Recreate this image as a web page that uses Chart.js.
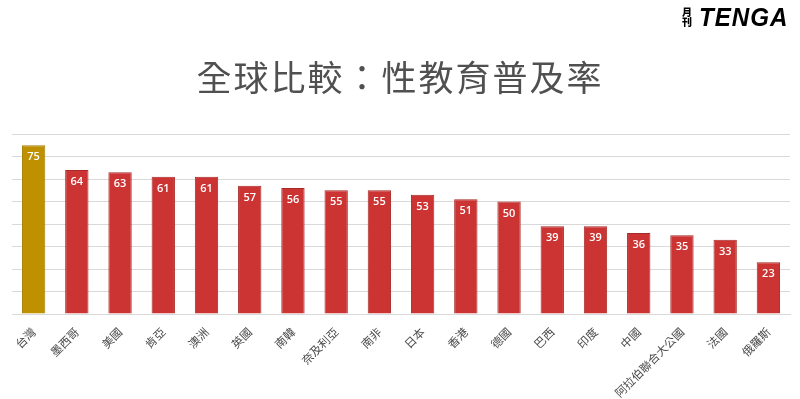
<!DOCTYPE html>
<html>
<head>
<meta charset="utf-8">
<script src="https://cdn.jsdelivr.net/npm/chart.js@4.4.1/dist/chart.umd.min.js"></script>
<style>
  html, body { margin: 0; padding: 0; background: #fff; }
  #wrap { position: relative; width: 800px; height: 399px; }
  #title {
    position: absolute; left: 0; top: 50px; width: 800px; text-align: center;
    font-family: "Noto Sans CJK TC", sans-serif; font-size: 35px; font-weight: 400; color: #505050;
    letter-spacing: 2px;
  }
  #logo { position: absolute; left: 682px; top: 2px; font-family: "Liberation Sans", sans-serif; }
  #logo .mk {
    position: absolute; left: 0; top: 5px; width: 12px; font-family: "Noto Sans CJK TC", sans-serif;
    font-size: 10px; line-height: 10px; font-weight: 900; color: #000;
  }
  #logo .tg {
    position: absolute; left: 17px; top: 0; font-size: 26px; font-weight: 900; font-style: italic;
    color: #000; letter-spacing: 1px; transform: scaleX(0.93); transform-origin: left;
  }
</style>
</head>
<body>
<div id="wrap">
  <div id="title">全球比較：性教育普及率</div>
  <div id="logo"><div class="mk">月<br>刊</div><div class="tg">TENGA</div></div>
  <canvas id="c" width="800" height="399"></canvas>
</div>
<script>
const countries = ['台灣', '墨西哥', '美國', '肯亞', '澳洲', '英國', '南韓', '奈及利亞', '南非',
  '日本', '香港', '德國', '巴西', '印度', '中國', '阿拉伯聯合大公國', '法國', '俄羅斯'];
const rates = [75, 64, 63, 61, 61, 57, 56, 55, 55, 53, 51, 50, 39, 39, 36, 35, 33, 23];
const highlight = '台灣';

const fills = countries.map(c => c === highlight ? '#BF9000' : '#CB3432');
const borders = countries.map(c => c === highlight ? '#A67D00' : '#A82A28');

// white value labels inside the top of each bar
const valueLabels = {
  id: 'valueLabels',
  afterDatasetsDraw(chart) {
    const { ctx } = chart;
    const meta = chart.getDatasetMeta(0);
    ctx.save();
    ctx.fillStyle = '#ffffff';
    ctx.font = '600 11px "Open Sans", sans-serif';
    ctx.textAlign = 'center';
    ctx.textBaseline = 'middle';
    meta.data.forEach((bar, i) => {
      ctx.fillText(rates[i], bar.x, bar.y + 12);
    });
    ctx.restore();
  }
};

new Chart(document.getElementById('c'), {
  type: 'bar',
  data: {
    labels: countries,
    datasets: [{
      data: rates,
      backgroundColor: fills,
      borderColor: borders,
      borderWidth: 1,
      categoryPercentage: 1,
      barPercentage: 0.54
    }]
  },
  options: {
    responsive: false,
    animation: false,
    layout: { padding: { left: 12, right: 10, top: 134, bottom: 0 } },
    plugins: { legend: { display: false }, tooltip: { enabled: false }, title: { display: false } },
    scales: {
      x: {
        grid: { display: false },
        border: { color: '#D9D9D9' },
        ticks: {
          minRotation: 45, maxRotation: 45, autoSkip: false,
          color: '#4a4a4a', font: { size: 11.5, family: '"Noto Sans CJK TC", sans-serif' }
        },
        afterFit(s) { s.height = 85; }
      },
      y: {
        min: 0, max: 80,
        ticks: { display: false, stepSize: 10 },
        grid: { color: '#D9D9D9', drawTicks: false },
        border: { display: false },
        afterFit(s) { s.width = 0; }
      }
    }
  },
  plugins: [valueLabels]
});
</script>
</body>
</html>
